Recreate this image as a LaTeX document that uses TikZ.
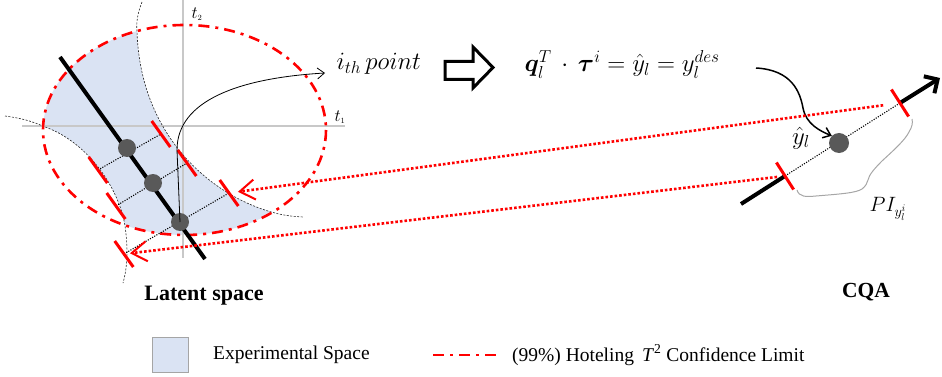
\documentclass[tikz,border=0pt]{standalone}
\usepackage{amsmath}
\usepackage{bm}
\usepackage{fontspec}
\setmainfont{Liberation Serif}
\usetikzlibrary{arrows.meta,calc}
\definecolor{expfill}{HTML}{DAE3F3}
\definecolor{dotgray}{HTML}{595959}
\definecolor{axisgray}{HTML}{C8C8C8}
\definecolor{bracegray}{HTML}{A6A6A6}
\definecolor{boxgray}{HTML}{A5A5A5}
\begin{document}
\begin{tikzpicture}[x=1pt,y=-1pt,
  hotel/.style={red, line width=2.6pt, dash pattern=on 11pt off 6pt on 3pt off 6pt},
  bdash/.style={black!85, line width=0.6pt, dash pattern=on 2pt off 1.5pt},
  tickmark/.style={red, line width=3pt},
  dotnode/.style={circle, fill=dotgray, inner sep=0pt, minimum size=18pt},
  projline/.style={black, line width=1.1pt, dash pattern=on 1.1pt off 1.4pt},
  redarrow/.style={red, line width=2.6pt, dash pattern=on 2.6pt off 2pt,
    -{Straight Barb[length=15pt,width=20pt,line width=2pt]}},
  thinarrow/.style={-{Straight Barb[length=7pt,width=11pt]}},
  axisline/.style={axisgray, line width=1.2pt}
]
\useasboundingbox (0,0) rectangle (942,377);

% experimental space
\fill[expfill] plot[domain=250.4:182, samples=30] ({184.5+141.5*cos(\x)},{130+105*sin(\x)})
  .. controls (85,140) and (118,185) .. (124.9,225.2)
  -- plot[domain=114.9:51.6, samples=30] ({184.5+141.5*cos(\x)},{130+105*sin(\x)})
  .. controls (210,195) and (140,135) .. (137,31.1) -- cycle;

% axes
\coordinate (ax1a) at (22,126);
\coordinate (ax1b) at (345,126);
\coordinate (ax2a) at (183,0);
\coordinate (ax2b) at (183,258);
\draw[axisline] (ax1a) -- (ax1b);
\draw[axisline] (ax2a) -- (ax2b);
\node[font=\fontsize{17}{19}\selectfont] (t2) at (197,14) {$t_{\scriptscriptstyle 2}$};
\node[font=\fontsize{17}{19}\selectfont] (t1) at (340,117) {$t_{\scriptscriptstyle 1}$};

% dashed boundaries
\draw[bdash] (142,2) .. controls (138,12) and (136,22) .. (137,31.1)
  .. controls (140,135) and (210,195) .. (272.4,212.3)
  .. controls (285,216) and (295,216.5) .. (303,217);
\draw[bdash] (5,116) .. controls (20,118) and (32,121) .. (43.1,126.3)
  .. controls (85,140) and (118,185) .. (124.9,225.2)
  .. controls (127,240) and (129,262) .. (123,283);

% Hotelling ellipse
\draw[hotel] (184.5,130) ellipse [x radius=141.5, y radius=105];

% principal line
\coordinate (pc1) at (60,57);
\coordinate (pc2) at (205,259);
\draw[line width=4pt] (pc1) -- (pc2);

% projection rows
\coordinate (L1) at (98,170);
\coordinate (R1) at (161,134);
\coordinate (L2) at (116,206);
\coordinate (R2) at (187,163);
\coordinate (L3) at (124,254);
\coordinate (R3) at (229,193);
\draw[projline] (L1) -- (R1);
\draw[projline] (L2) -- (R2);
\draw[projline] (L3) -- (R3);
\foreach \c in {L1,R1,L2,R2,L3,R3}
  \draw[tickmark] ($(\c)+(-9.3,-13)$) -- ($(\c)+(9.3,13)$);

\node[dotnode] (d1) at (127,148) {};
\node[dotnode] (d2) at (153,183) {};
\node[dotnode] (d3) at (180,222) {};

% i-th point
\node[anchor=base west, font=\fontsize{24}{28}\selectfont] (ith) at (333,70) {$i_{th}\,point$};
\draw[line width=0.8pt, thinarrow] (d3.center) -- (177,150) .. controls (177,100) and (240,78) .. ($(ith.base west)+(-8,3)$);

% block arrow
\draw[line width=3pt, fill=white, line join=miter]
  (445,61.5) -- (473,61.5) -- (473,47) -- (493,67.5) -- (473,88) -- (473,79.5) -- (445,79.5) -- cycle;

% equation
\node[anchor=base west, font=\fontsize{24}{28}\selectfont] (eq) at (521,72)
  {$\bm{q}_l^T \,\cdot\, \bm{\tau}^i = \hat{y}_l = y_l^{des}$};

% CQA axis
\coordinate (ca0) at (741,204);
\coordinate (ct1) at (785,176);
\coordinate (ct2) at (900,103);
\coordinate (ca1) at (940,78);
\draw[line width=4pt] (ca0) -- (ct1);
\draw[projline] (ct1) -- (ct2);
\draw[line width=4pt, -{Straight Barb[length=10pt,width=20pt]}] (ct2) -- (ca1);
\foreach \c in {ct1,ct2}
  \draw[tickmark] ($(\c)+(-8.6,-13.5)$) -- ($(\c)+(8.6,13.5)$);
\node[dotnode, minimum size=20pt] (cdot) at (839,143) {};

% y hat
\node[font=\fontsize{23}{26}\selectfont] (yhat) at (801,138) {$\hat{y}_l$};
\coordinate (cs) at (756,68);
\draw[line width=1.5pt, thinarrow] (cs) .. controls (792,70) and (800,92) .. (803,108)
  .. controls (806,124) and (820,131) .. (cdot.north west);

% brace
\draw[bracegray, line width=1pt] (797,190) .. controls (799,197) and (806,197) .. (816,196)
  .. controls (840,194) and (856,193) .. (862,189) .. controls (866,186) and (867,183) .. (868,180)
  .. controls (869,175) and (874,169) .. (882,161) .. controls (895,149) and (905,140) .. (909,132)
  .. controls (912,127) and (913,123) .. (912,119);
\node[font=\fontsize{20}{24}\selectfont] (pi) at (888,209) {$PI_{y_l^i}$};

% red projection arrows
\draw[redarrow, shorten <=17pt, shorten >=9pt] (ct2) -- (R3);
\draw[redarrow, shorten <=8pt, shorten >=6pt] (ct1) -- (L3);

% titles
\node[anchor=base, font=\bfseries\fontsize{22}{26}\selectfont] (latent) at (204,300) {Latent space};
\node[anchor=base, font=\bfseries\fontsize{21.5}{26}\selectfont] (cqa) at (866,297) {CQA};

% legend
\node[draw=boxgray, fill=expfill, line width=0.8pt, minimum width=36pt, minimum height=35pt] (legbox) at (170,355) {};
\node[anchor=west, font=\fontsize{19.5}{22}\selectfont, inner sep=0pt] (leg1) at (213,355) {Experimental Space};
\coordinate (lh1) at (433,355);
\coordinate (lh2) at (497,355);
\draw[hotel] (lh1) -- (lh2);
\node[anchor=west, font=\fontsize{19.5}{22}\selectfont, inner sep=0pt] (leg2) at (512,355)
  {(99\%) Hoteling \,\textit{T}\textsuperscript{2} Confidence Limit};
\end{tikzpicture}
\end{document}
